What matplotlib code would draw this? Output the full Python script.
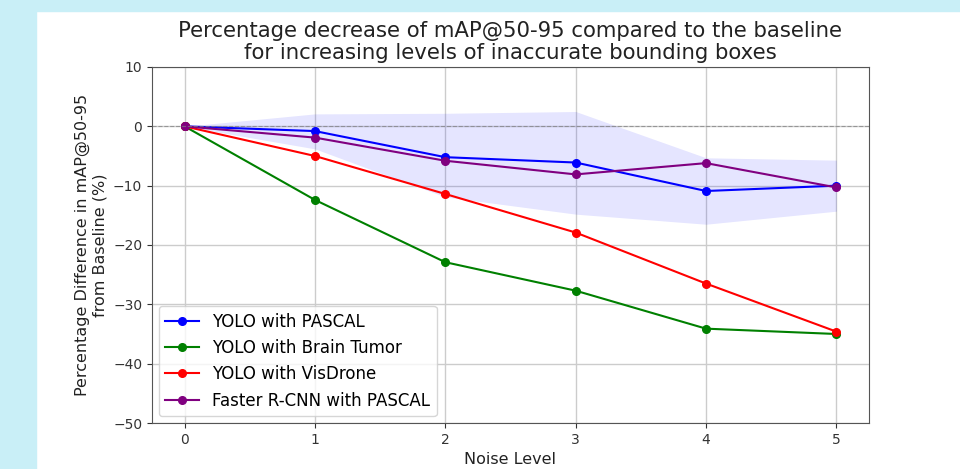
import matplotlib
matplotlib.use("Agg")
import matplotlib.pyplot as plt
from matplotlib.patches import Rectangle

noise = [0, 1, 2, 3, 4, 5]
yolo_pascal = [0, -0.8, -5.2, -6.1, -10.9, -10.0]
yolo_brain = [0, -12.4, -22.9, -27.7, -34.1, -35.0]
yolo_visdrone = [0, -5.0, -11.4, -17.9, -26.5, -34.6]
frcnn_pascal = [0, -1.9, -5.8, -8.1, -6.2, -10.3]
band_upper = [0, 2.1, 2.2, 2.5, -5.3, -5.7]
band_lower = [0, -3.8, -11.9, -14.8, -16.5, -14.3]

fig = plt.figure(figsize=(9.6, 4.69), dpi=100)
fig.patch.set_facecolor("white")
bg = "#c9eff7"
fig.add_artist(Rectangle((0, 0), 36/960, 1, transform=fig.transFigure, color=bg, zorder=-10))
fig.add_artist(Rectangle((0, 1 - 11/469), 1, 11/469, transform=fig.transFigure, color=bg, zorder=-10))

ax = fig.add_axes([152/960, 1 - 423/469, (869 - 152)/960, (423 - 67)/469])
ax.fill_between(noise, band_lower, band_upper, color="blue", alpha=0.1, linewidth=0)
ax.plot(noise, yolo_pascal, "-o", color="blue", markersize=5.5, label="YOLO with PASCAL")
ax.plot(noise, yolo_brain, "-o", color="green", markersize=5.5, label="YOLO with Brain Tumor")
ax.plot(noise, yolo_visdrone, "-o", color="red", markersize=5.5, label="YOLO with VisDrone")
ax.plot(noise, frcnn_pascal, "-o", color="purple", markersize=5.5, label="Faster R-CNN with PASCAL")
ax.axhline(0, color="gray", linestyle="--", linewidth=0.8, alpha=0.7)
ax.set_ylim(-50, 10)
ax.set_xlim(-0.25, 5.25)
ax.grid(True, color="#cccccc", linewidth=1)
ax.set_axisbelow(True)
for s in ax.spines.values():
    s.set_color("#555555")
ax.tick_params(colors="#333333", labelsize=10)
ax.set_xlabel("Noise Level", fontsize=11.5, color="#222222")
ax.set_ylabel("Percentage Difference in mAP@50-95\nfrom Baseline (%)", fontsize=11.5, color="#222222")
ax.set_title("Percentage decrease of mAP@50-95 compared to the baseline\nfor increasing levels of inaccurate bounding boxes",
             fontsize=15.3, color="#222222", linespacing=1.1)
ax.legend(loc="lower left", fontsize=12, borderaxespad=0.4)
fig.savefig("out.png", dpi=100)
